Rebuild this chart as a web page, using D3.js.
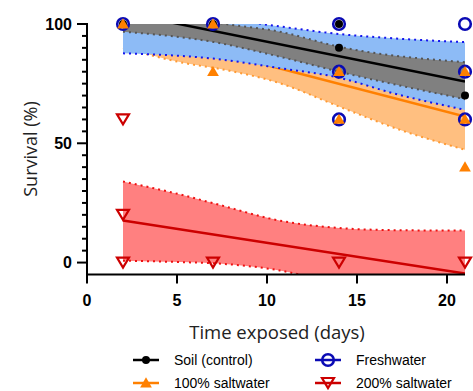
<!DOCTYPE html>
<html>
<head>
<meta charset="utf-8">
<script src="https://cdn.jsdelivr.net/npm/d3@7"></script>
<style>
  body { margin: 0; background: #fff; }
  svg { display: block; font-family: "Liberation Sans", Arial, sans-serif; }
</style>
</head>
<body>
<div id="chart"></div>
<script>
// Observed survival points
const soilDays = [2, 7, 14, 14, 21];
const soilVals = [100, 100, 100, 90, 70];
const freshDays = [2, 7, 14, 14, 14, 21, 21, 21];
const freshVals = [100, 100, 100, 80, 60, 100, 80, 60];
const salt100Days = [2, 7, 7, 14, 14, 21, 21, 21];
const salt100Vals = [100, 100, 80, 80, 60, 80, 60, 40];
const salt200Days = [2, 2, 2, 7, 14, 21];
const salt200Vals = [60, 20, 0, 0, 0, 0];

// Fitted lines (start / end day)
const fitDays = [2, 21];
const soilFit = [104.7, 75.9];
const freshFit = [99, 78];
const salt100Fit = [98.4, 61.2];
const salt200Fit = [17.6, -4.6];

// Confidence bands
const soilBandDays = [2, 7, 10.7, 14, 21];
const soilUpper = [113, 101, 96.8, 90.5, 84];
const soilLower = [96.8, 92.5, 86.3, 80, 68.5];
const freshBandDays = [2, 7, 10.7, 14, 17, 21];
const freshUpper = [110, 103, 99, 95.8, 94, 92.4];
const freshLower = [87.7, 85.5, 81.5, 77.5, 71, 64];
const salt100BandDays = [2, 5.5, 7.5, 10.7, 14, 17.4, 21];
const salt100Upper = [107, 103, 100, 95, 88, 82, 76];
const salt100Lower = [90, 83.5, 81, 75.2, 65.4, 55.6, 47.3];
const salt200BandDays = [2, 5.2, 7.3, 10.7, 14, 17, 21];
const salt200Upper = [34, 28.5, 24.3, 17.6, 14.5, 13.6, 13.4];
const salt200Lower = [0.8, 0.2, -0.4, -3.3, -9, -14, -22];

const xTicks = [0, 5, 10, 15, 20];
const yTicks = [0, 50, 100];

const width = 473, height = 391;
const svg = d3.select('#chart').append('svg')
    .attr('width', width)
    .attr('height', height);

const x = d3.scaleLinear().domain([0, 21]).range([87, 465]);
const y = d3.scaleLinear().domain([-5, 100]).range([274.5, 24]);

svg.append('defs').append('clipPath').attr('id', 'plot')
    .append('rect')
    .attr('x', x(0)).attr('y', y(100))
    .attr('width', x(21) - x(0)).attr('height', y(-5) - y(100));

const plot = svg.append('g').attr('clip-path', 'url(#plot)');

function drawBand(days, upper, lower, fill, dot) {
    const pts = days.map((d, i) => ({ d, u: upper[i], l: lower[i] }));
    plot.append('path')
        .datum(pts)
        .attr('fill', fill)
        .attr('d', d3.area().curve(d3.curveMonotoneX)
            .x(p => x(p.d)).y0(p => y(p.l)).y1(p => y(p.u)));
    [p => p.u, p => p.l].forEach(acc => {
        plot.append('path')
            .datum(pts)
            .attr('fill', 'none')
            .attr('stroke', dot)
            .attr('stroke-width', 2)
            .attr('stroke-dasharray', '2,4')
            .attr('d', d3.line().curve(d3.curveMonotoneX)
                .x(p => x(p.d)).y(p => y(acc(p))));
    });
}

function drawFit(vals, color) {
    plot.append('path')
        .datum(fitDays.map((d, i) => [d, vals[i]]))
        .attr('fill', 'none')
        .attr('stroke', color)
        .attr('stroke-width', 2.5)
        .attr('d', d3.line().x(p => x(p[0])).y(p => y(p[1])));
}

drawBand(salt100BandDays, salt100Upper, salt100Lower, '#ffbf80', '#ff9a33');
drawFit(salt100Fit, '#ff8000');
drawBand(freshBandDays, freshUpper, freshLower, '#8dbbf6', '#1515ee');
drawFit(freshFit, '#0000cc');
drawBand(soilBandDays, soilUpper, soilLower, '#808080', '#555555');
drawFit(soilFit, '#000000');
drawBand(salt200BandDays, salt200Upper, salt200Lower, '#ff8080', '#ee1111');
drawFit(salt200Fit, '#cc0000');

// Marker shapes
const triUp = d3.symbol().type(d3.symbolTriangle).size(60)();
const triDown = 'M-6,-5L6,-5L0,5Z';

function markers(days, vals, draw) {
    const g = svg.append('g');
    days.forEach((d, i) => draw(g.append('g')
        .attr('transform', `translate(${x(d)},${y(vals[i])})`)));
}
const drawFresh = g => g.append('circle').attr('r', 5.8)
    .attr('fill', 'none').attr('stroke', '#0a0ab4').attr('stroke-width', 2.6);
const drawSoil = g => g.append('circle').attr('r', 4).attr('fill', '#000');
const drawSalt100 = g => g.append('path').attr('d', triUp)
    .attr('transform', 'translate(0,1)').attr('fill', '#ff8000');
const drawSalt200 = g => g.append('path').attr('d', triDown)
    .attr('fill', 'none').attr('stroke', '#cc0000').attr('stroke-width', 2.2);

markers(freshDays, freshVals, drawFresh);
markers(soilDays, soilVals, drawSoil);
markers(salt100Days, salt100Vals, drawSalt100);
markers(salt200Days, salt200Vals, drawSalt200);

// Axes
const axisG = svg.append('g');
axisG.append('line')
    .attr('x1', x(0)).attr('x2', x(0))
    .attr('y1', y(100) - 1).attr('y2', y(-5))
    .attr('stroke', '#000').attr('stroke-width', 2);
axisG.append('line')
    .attr('x1', x(0) - 1).attr('x2', x(21))
    .attr('y1', y(-5)).attr('y2', y(-5))
    .attr('stroke', '#000').attr('stroke-width', 2);

d3.range(0, 101, 5).forEach(v => {
    const major = yTicks.includes(v);
    axisG.append('line')
        .attr('x1', x(0)).attr('x2', x(0) - (major ? 10 : 5))
        .attr('y1', y(v)).attr('y2', y(v))
        .attr('stroke', '#000').attr('stroke-width', 2);
});
yTicks.forEach(v => {
    axisG.append('text')
        .attr('x', x(0) - 15).attr('y', y(v))
        .attr('dy', '0.35em')
        .attr('text-anchor', 'end')
        .attr('font-size', 16).attr('font-weight', 'bold')
        .text(v);
});
xTicks.forEach(v => {
    axisG.append('line')
        .attr('x1', x(v)).attr('x2', x(v))
        .attr('y1', y(-5)).attr('y2', y(-5) + 9)
        .attr('stroke', '#000').attr('stroke-width', 2);
    axisG.append('text')
        .attr('x', x(v)).attr('y', 306)
        .attr('text-anchor', 'middle')
        .attr('font-size', 16).attr('font-weight', 'bold')
        .text(v);
});

svg.append('text')
    .attr('transform', 'translate(37,149) rotate(-90)')
    .attr('text-anchor', 'middle')
    .attr('font-family', '"Open Sans", sans-serif')
    .attr('font-size', 18)
    .attr('fill', '#222')
    .text('Survival (%)');
svg.append('text')
    .attr('x', 277).attr('y', 339)
    .attr('text-anchor', 'middle')
    .attr('font-family', '"Open Sans", sans-serif')
    .attr('font-size', 18.5)
    .attr('fill', '#222')
    .text('Time exposed (days)');

// Legend
const legendItems = [
    { label: 'Soil (control)', color: '#000', draw: drawSoil, lx: 133, ly: 360 },
    { label: 'Freshwater', color: '#0a0ab4', draw: drawFresh, lx: 315, ly: 360 },
    { label: '100% saltwater', color: '#ff8000', draw: drawSalt100, lx: 133, ly: 383 },
    { label: '200% saltwater', color: '#cc0000', draw: drawSalt200, lx: 315, ly: 383 }
];
legendItems.forEach(it => {
    const g = svg.append('g');
    g.append('line')
        .attr('x1', it.lx).attr('x2', it.lx + 26)
        .attr('y1', it.ly).attr('y2', it.ly)
        .attr('stroke', it.color).attr('stroke-width', 2.5);
    it.draw(g.append('g').attr('transform', `translate(${it.lx + 13},${it.ly})`));
    g.append('text')
        .attr('x', it.lx + 41).attr('y', it.ly)
        .attr('dy', '0.35em')
        .attr('font-size', 14)
        .text(it.label);
});
</script>
</body>
</html>
